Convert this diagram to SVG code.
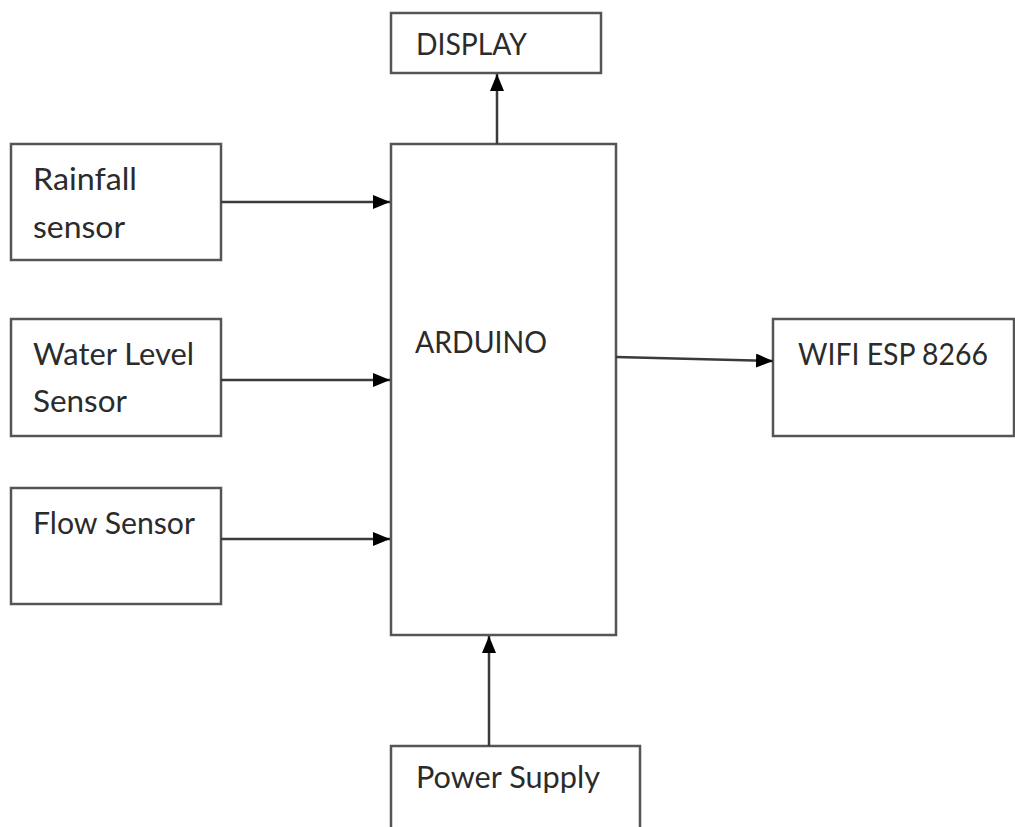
<svg xmlns="http://www.w3.org/2000/svg" width="1015" height="827" viewBox="0 0 1015 827">
  <style>
    .box { fill: #ffffff; stroke: #555555; stroke-width: 2.5; }
    .lbl { font-family: Lato, "Open Sans", "Liberation Sans", sans-serif; font-size: 30px; fill: #2b2b2b; }
    .conn { stroke: #3a3a3a; stroke-width: 2.5; fill: none; marker-end: url(#arrow); }
  </style>
  <defs>
    <marker id="arrow" viewBox="0 0 17 14" refX="17" refY="7" markerWidth="17" markerHeight="14" markerUnits="userSpaceOnUse" orient="auto">
      <path d="M0,0 L17,7 L0,14 Z" fill="#000000"/>
    </marker>
  </defs>
  <rect width="1015" height="827" fill="#ffffff"/>

  <g id="display">
    <rect class="box" x="391" y="13" width="210" height="60"/>
    <text class="lbl" x="416" y="55" textLength="111" lengthAdjust="spacingAndGlyphs">DISPLAY</text>
  </g>
  <g id="rainfall">
    <rect class="box" x="11" y="144" width="210" height="116"/>
    <text class="lbl" x="33" y="190" textLength="104" lengthAdjust="spacingAndGlyphs">Rainfall</text>
    <text class="lbl" x="33" y="238" textLength="92" lengthAdjust="spacingAndGlyphs">sensor</text>
  </g>
  <g id="water-level">
    <rect class="box" x="11" y="319" width="210" height="117"/>
    <text class="lbl" x="33" y="365" textLength="161" lengthAdjust="spacingAndGlyphs">Water Level</text>
    <text class="lbl" x="33" y="412" textLength="94" lengthAdjust="spacingAndGlyphs">Sensor</text>
  </g>
  <g id="flow">
    <rect class="box" x="11" y="488" width="210" height="116"/>
    <text class="lbl" x="33" y="534" textLength="162" lengthAdjust="spacingAndGlyphs">Flow Sensor</text>
  </g>
  <g id="arduino">
    <rect class="box" x="391" y="144" width="225" height="491"/>
    <text class="lbl" x="415" y="353" textLength="132" lengthAdjust="spacingAndGlyphs">ARDUINO</text>
  </g>
  <g id="wifi">
    <rect class="box" x="773" y="319" width="241" height="117"/>
    <text class="lbl" x="798" y="365" textLength="190" lengthAdjust="spacingAndGlyphs">WIFI ESP 8266</text>
  </g>
  <g id="power">
    <rect class="box" x="391" y="746" width="249" height="100"/>
    <text class="lbl" x="416" y="788" textLength="184" lengthAdjust="spacingAndGlyphs">Power Supply</text>
  </g>

  <g id="connectors">
    <path class="conn" d="M221,202 L390,202"/>
    <path class="conn" d="M221,380 L390,380"/>
    <path class="conn" d="M221,539 L390,539"/>
    <path class="conn" d="M497,144 L497,74"/>
    <path class="conn" d="M616,357 L773,361"/>
    <path class="conn" d="M489,746 L489,636"/>
  </g>
</svg>
